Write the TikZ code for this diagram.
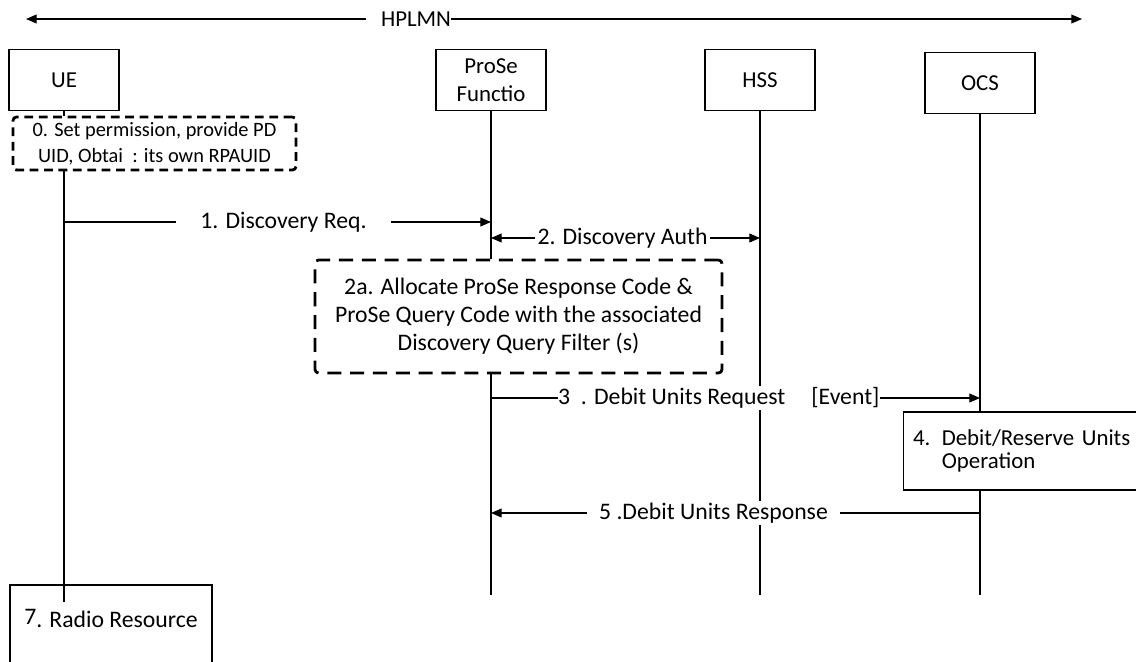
\documentclass[tikz,border=0pt]{standalone}
\usepackage{fontspec}
\setmainfont{Carlito}
\usetikzlibrary{arrows.meta, positioning}

\begin{document}
\begin{tikzpicture}[
    x=0.02cm, y=-0.02cm,
    >={Triangle[length=6pt,width=5pt]},
    font=\fontsize{13.5}{16}\selectfont,
    entity/.style={draw, semithick, fill=white, minimum width=2.2cm, minimum height=1.22cm, align=center, inner sep=1pt, font=\fontsize{13}{16}\selectfont},
    life/.style={semithick},
    msg/.style={fill=white, inner ysep=1pt, inner xsep=0pt},
    note/.style={draw, line width=1.6pt, rounded corners=2pt, fill=white, align=center},
    action/.style={draw, semithick, fill=white, align=left, font=\fontsize{13}{13.5}\selectfont}
]
\clip (0,0) rectangle (1136,662);

% HPLMN span
\node[inner sep=0pt, font=\fontsize{13}{16}\selectfont] (hplmn) at (416,19) {HPLMN};
\coordinate (west) at (26,19);
\coordinate (east) at (1082,19);
\draw[->, semithick] ([xshift=-0.3cm]hplmn.west) -- (west);
\draw[->, semithick] (hplmn.east) -- (east);

% Participants
\node[entity] (ue) at (64,80) {UE};
\node[entity] (prose) at (491,80) {ProSe\\Functio};
\node[entity] (hss) at (760,80) {HSS};
\node[entity] (ocs) at (980,83) {OCS};

% Local steps
\node[note, dash pattern=on 5pt off 3.2pt, minimum width=5.66cm, minimum height=1.06cm, inner sep=1pt, font=\fontsize{11.6}{14.5}\selectfont] (perm) at (154.5,143.5)
    {0. Set permission,\ provide PD\\UID, Obtai\ \ : its own RPAUID};
\node[note, dash pattern=on 8pt off 5pt, minimum width=8.14cm, minimum height=2.26cm] (alloc) at (518.5,316.5)
    {2a. Allocate ProSe Response Code \&\\ProSe Query Code with the associated\\Discovery Query Filter (s)};
\node[action, minimum width=4.94cm, minimum height=1.56cm, text width=4.54cm, inner xsep=0.2cm] (debit) at (1026.5,451)
    {4. Debit/Reserve Units\\\phantom{4. }Operation};
\node[draw, semithick, minimum width=4.04cm, minimum height=1.9cm, align=center] (radio) at (111,632.5)
    {\raisebox{1.5pt}{7}. Radio Resource\\\mbox{}};

% Lifelines
\coordinate (ueend) at (64,602);
\coordinate (bottom) at (0,595);
\draw[life] (ue) -- (perm.north -| ue);
\draw[life] (perm.south -| ue) -- (ueend);
\draw[life] (prose) -- (alloc.north -| prose);
\draw[life] (alloc.south -| prose) -- (prose |- bottom);
\draw[life] (hss) -- (hss |- bottom);
\draw[life] (ocs) -- (debit.north -| ocs);
\draw[life] (debit.south -| ocs) -- (ocs |- bottom);

% Messages
\coordinate (r1) at (0,222);
\coordinate (r2) at (0,238);
\coordinate (r3) at (0,398);
\coordinate (r5) at (0,513);

\draw[->, semithick] (ue |- r1) -- node[msg, pos=0.514, inner xsep=14pt] {1. Discovery Req.} (prose |- r1);
\draw[<->, semithick] (prose |- r2) -- node[msg, pos=0.489, inner xsep=1.5pt] {2. Discovery Auth} (hss |- r2);
\draw[->, semithick] (prose |- r3) -- node[msg, pos=0.466] {3\ \ . Debit Units Request\hspace{1.1em}[Event]} (ocs |- r3);
\draw[->, semithick] (ocs |- r5) -- node[msg, pos=0.545, inner xsep=6.8pt] {5 .Debit Units Response\hspace{20pt}} (prose |- r5);

\end{tikzpicture}
\end{document}
